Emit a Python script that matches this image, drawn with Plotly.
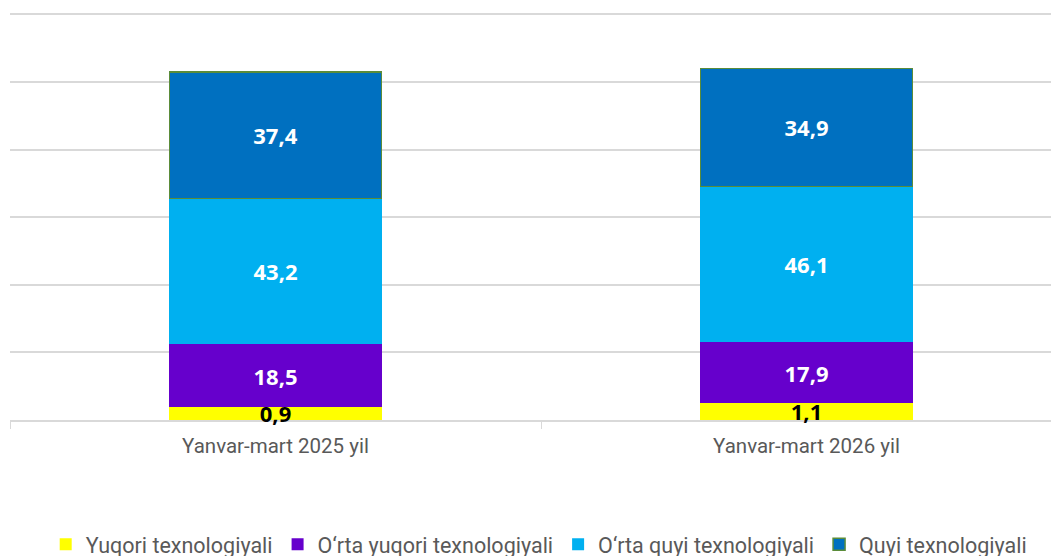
import plotly.graph_objects as go

categories = ["Yanvar-mart 2025 yil", "Yanvar-mart 2026 yil"]
series_names = ["Yuqori texnologiyali", "O\u2018rta yuqori texnologiyali",
                "O\u2018rta quyi texnologiyali", "Quyi texnologiyali"]
# label values (%)
yuqori = [0.9, 1.1]
orta_yuqori = [18.5, 17.9]
orta_quyi = [43.2, 46.1]
quyi = [37.4, 34.9]
# drawn heights of the thin top-tech segment (exaggerated in the source chart)
yuqori_bar = [3.9, 5.1]

colors = ["#FFFF00", "#6600CC", "#00B0F0", "#0070C0"]
text_colors = ["#000000", "#FFFFFF", "#FFFFFF", "#FFFFFF"]

def fmt(v):
    return f"{v:.1f}".replace(".", ",")

heights = [yuqori_bar, orta_yuqori, orta_quyi, quyi]
labels = [yuqori, orta_yuqori, orta_quyi, quyi]

fig = go.Figure()
for i, name in enumerate(series_names):
    fig.add_trace(go.Bar(
        x=categories, y=heights[i], name=name,
        text=[fmt(v) for v in labels[i]],
        textposition="inside", insidetextanchor="middle",
        constraintext="none", cliponaxis=False,
        textfont=dict(family="Open Sans", size=22, color=text_colors[i], weight="bold"),
        marker=dict(color=colors[i],
                    line=dict(color="#5B8C3A" if i == 3 else colors[i],
                              width=1.5 if i == 3 else 0)),
        hoverinfo="skip",
    ))

# page body adds an 8px margin, so the figure is sized and placed to compensate
fig.update_layout(
    width=1051, height=560,
    barmode="stack", bargap=0.6,
    paper_bgcolor="white", plot_bgcolor="white",
    margin=dict(l=2, r=0, t=3, b=148),
    showlegend=True,
    legend=dict(orientation="h", x=0.504, xanchor="center", y=-0.254, yanchor="top",
                font=dict(family="Roboto", size=21.5, color="#595959"),
                traceorder="normal", itemwidth=30),
    xaxis=dict(range=[-0.5, 1.4755], showgrid=False, layer="below traces",
               showline=True, linecolor="#D9D9D9", linewidth=1.5,
               ticks="outside", tickson="boundaries", ticklen=7, tickcolor="#D9D9D9",
               tickfont=dict(family="Roboto", size=20.5, color="#595959"),
               ticklabelstandoff=7),
    yaxis=dict(range=[0, 121], tickvals=[20, 40, 60, 80, 100, 120], showticklabels=False,
               showgrid=True, gridcolor="#D9D9D9", gridwidth=1.5,
               zeroline=False, showline=False),
)

fig.write_html("out.html")
